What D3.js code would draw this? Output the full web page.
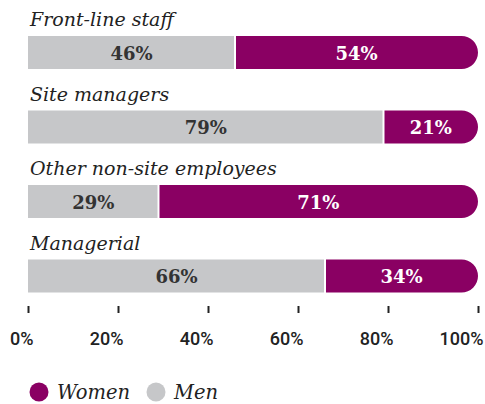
<!DOCTYPE html>
<html><head><meta charset="utf-8">
<script src="https://cdn.jsdelivr.net/npm/d3@7"></script>
<style>body{margin:0;background:#fff}</style>
</head><body><svg id="c" width="485" height="404"></svg>
<script>
const categories = ["Front-line staff","Site managers","Other non-site employees","Managerial"];
const men = [46,79,29,66];
const women = [54,21,71,34];
const tickValues = [0,20,40,60,80,100];
const legendLabels = ["Women","Men"];

const svg = d3.select("#c");
const x = d3.scaleLinear().domain([0,100]).range([28,478]);
const y = d3.scaleBand().domain(categories).range([36,334]).paddingInner(0);
const barH = 33;
const grey = "#c6c7c9", purple = "#8a0063";
const serif = "'DejaVu Serif', serif";

categories.forEach((c,i)=>{
  const top = y(c);
  svg.append("text").attr("x",30).attr("y",top-10).text(c)
    .attr("font-family",serif).attr("font-style","italic").attr("font-size",19).attr("fill","#222");
  svg.append("rect").attr("x",x(0)).attr("y",top).attr("width",x(men[i])-x(0)-1).attr("height",barH).attr("fill",grey);
  const wx = x(men[i])+1, ww = x(100)-wx, r = barH/2;
  svg.append("path").attr("fill",purple)
    .attr("d",`M${wx},${top}H${wx+ww-r}A${r},${r} 0 0 1 ${wx+ww},${top+r}A${r},${r} 0 0 1 ${wx+ww-r},${top+barH}H${wx}Z`);
  svg.append("text").attr("x",(x(0)+x(men[i]))/2).attr("y",top+barH/2+7).attr("text-anchor","middle")
    .attr("font-family",serif).attr("font-weight","bold").attr("font-size",18).attr("fill","#333").text(men[i]+"%");
  svg.append("text").attr("x",(x(men[i])+x(100))/2).attr("y",top+barH/2+7).attr("text-anchor","middle")
    .attr("font-family",serif).attr("font-weight","bold").attr("font-size",18).attr("fill","#fff").text(women[i]+"%");
});

const ax = svg.append("g").attr("transform","translate(0,306)")
  .call(d3.axisBottom(x).tickValues(tickValues).tickFormat(d=>d+"%").tickSize(7).tickPadding(14));
ax.select(".domain").remove();
ax.selectAll(".tick line").attr("stroke","#222").attr("stroke-width",2);
ax.selectAll(".tick text").attr("font-family","Roboto, sans-serif").attr("font-weight",500).attr("font-size",18).attr("fill","#222")
  .attr("text-anchor","end").attr("x",5).attr("dy",0).attr("y",39);

const leg = [{l:legendLabels[0],c:purple,x:39},{l:legendLabels[1],c:grey,x:156}];
leg.forEach(d=>{
  svg.append("circle").attr("cx",d.x).attr("cy",392).attr("r",9.5).attr("fill",d.c);
  svg.append("text").attr("x",d.x+18).attr("y",399).text(d.l)
    .attr("font-family",serif).attr("font-style","italic").attr("font-size",19.5).attr("fill","#222");
});
</script></body></html>
